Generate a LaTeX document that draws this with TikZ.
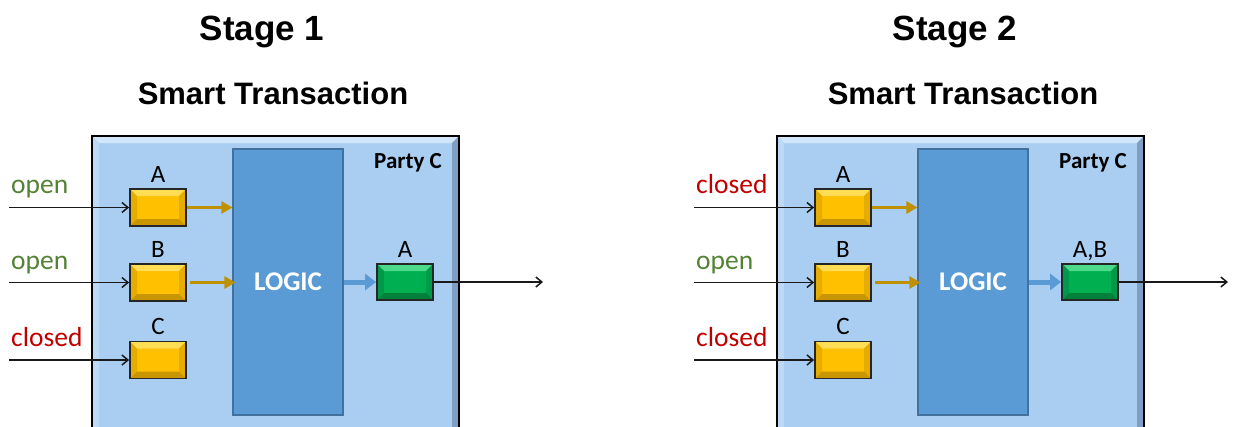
\documentclass[tikz,border=0pt]{standalone}
\usepackage{fontspec}
\setmainfont{Liberation Sans}
\newfontfamily\calibri{Carlito}
\usetikzlibrary{arrows.meta}
\definecolor{boxblue}{HTML}{AACEF1}
\definecolor{boxtop}{HTML}{D3E7FA}
\definecolor{boxleft}{HTML}{BCDAF5}
\definecolor{boxright}{HTML}{7E9FC2}
\definecolor{logicblue}{HTML}{5B9BD5}
\definecolor{logicedge}{HTML}{41719C}
\definecolor{gold}{HTML}{FFC000}
\definecolor{goldlight}{HTML}{FFDD55}
\definecolor{golddark}{HTML}{C99500}
\definecolor{goldside}{HTML}{E6AC00}
\definecolor{goldarrow}{HTML}{BF9000}
\definecolor{green1}{HTML}{00B050}
\definecolor{greenlight}{HTML}{4CD98A}
\definecolor{greendark}{HTML}{00803A}
\definecolor{greenside}{HTML}{00994A}
\definecolor{opengreen}{HTML}{548235}
\definecolor{closedred}{HTML}{C00000}
\tikzset{
  bevel/.style n args={5}{path picture={
    \path (path picture bounding box.north west) coordinate (bbnw)
          (path picture bounding box.north east) coordinate (bbne)
          (path picture bounding box.south west) coordinate (bbsw)
          (path picture bounding box.south east) coordinate (bbse);
    \fill[#2] (bbnw) -- (bbne) -- ([xshift=-#1pt,yshift=-#1pt]bbne) -- ([xshift=#1pt,yshift=-#1pt]bbnw) -- cycle;
    \fill[#3] (bbnw) -- ([xshift=#1pt,yshift=-#1pt]bbnw) -- ([xshift=#1pt,yshift=#1pt]bbsw) -- (bbsw) -- cycle;
    \fill[#4] (bbne) -- ([xshift=-#1pt,yshift=-#1pt]bbne) -- ([xshift=-#1pt,yshift=#1pt]bbse) -- (bbse) -- cycle;
    \fill[#5] (bbsw) -- ([xshift=#1pt,yshift=#1pt]bbsw) -- ([xshift=-#1pt,yshift=#1pt]bbse) -- (bbse) -- cycle;
  }},
  panelbox/.style={rectangle, draw=black, line width=2pt, fill=boxblue,
    minimum width=367pt, minimum height=300pt, inner sep=0pt,
    bevel={7}{boxtop}{boxleft}{boxright}{boxright}},
  logicbox/.style={rectangle, draw=logicedge, line width=1.2pt, fill=logicblue,
    minimum width=110pt, minimum height=266pt, inner sep=0pt,
    text=white, font=\calibri\bfseries\fontsize{27}{29}\selectfont},
  yelbox/.style={rectangle, draw=black!85, line width=1.8pt, fill=gold,
    minimum width=56pt, minimum height=37pt, inner sep=0pt,
    bevel={7}{goldlight}{goldside}{goldside}{golddark}},
  grnbox/.style={rectangle, draw=black!85, line width=1.8pt, fill=green1,
    minimum width=56pt, minimum height=36pt, inner sep=0pt,
    bevel={7}{greenlight}{greenside}{greenside}{greendark}},
  boxlabel/.style={font=\calibri\fontsize{25}{27}\selectfont, inner sep=0pt, anchor=base},
  partylabel/.style={font=\calibri\bfseries\fontsize{23}{25}\selectfont, inner sep=0pt, anchor=base},
  statelabel/.style={font=\calibri\fontsize{27.5}{29}\selectfont, inner sep=0pt, anchor=base west},
  titlelabel/.style={font=\bfseries\fontsize{35}{38}\selectfont, inner sep=0pt, anchor=base},
  sublabel/.style={font=\bfseries\fontsize{31}{34}\selectfont, inner sep=0pt, anchor=base},
  inarrow/.style={draw=black!90, line width=1.6pt, -{Straight Barb[length=6pt,width=10pt,line width=1.5pt]}},
  goldarr/.style={draw=goldarrow, line width=3pt, -{Triangle[length=11pt,width=12pt]}},
  bluearr/.style={draw=logicblue, line width=5pt, -{Triangle[length=11pt,width=16pt]}},
}
\newcommand\drawpanel[9]{%
  \begin{scope}[xshift=#2pt]
    \node[panelbox] (box#1) at (275.5,286) {};
    \node[logicbox] (logic#1) at (288,282) {LOGIC};
    \node[partylabel] (party#1) at (408,168) {Party C};
    \node[yelbox] (ya#1) at (158,207.5) {};
    \node[yelbox] (yb#1) at (158,282.5) {};
    \node[yelbox] (yc#1) at (158,360) {};
    \node[grnbox] (g#1) at (405,282) {};
    \node[boxlabel] (la#1) at (158,182) {A};
    \node[boxlabel] (lb#1) at (158,257) {B};
    \node[boxlabel] (lc#1) at (158,334) {C};
    \node[boxlabel] (lg#1) at (405,257) {#9};
    \node[statelabel, text=#4] (sa#1) at (11,193) {#3};
    \node[statelabel, text=#6] (sb#1) at (11,269) {#5};
    \node[statelabel, text=#8] (sc#1) at (11,346) {#7};
    \coordinate (ia#1) at (9,207.5);
    \coordinate (ib#1) at (9,282.5);
    \coordinate (ic#1) at (9,360);
    \coordinate (out#1) at (543,282);
    \draw[inarrow] (ia#1) -- (ya#1.west);
    \draw[inarrow] (ib#1) -- (yb#1.west);
    \draw[inarrow] (ic#1) -- (yc#1.west);
    \draw[goldarr] (ya#1.east) -- (logic#1.west |- ya#1.east);
    \draw[goldarr] ([xshift=3pt]yb#1.east) -- ([xshift=3pt]logic#1.west |- yb#1.east);
    \draw[bluearr] (logic#1.east |- g#1.west) -- (g#1.west);
    \draw[inarrow] (g#1.east) -- (out#1);
  \end{scope}%
}
\begin{document}
\begin{tikzpicture}[x=1pt,y=-1pt]
  \useasboundingbox (0,0) rectangle (1238,426);
  \clip (0,0) rectangle (1238,426);
  \node[titlelabel] (t1) at (262,40) {Stage 1};
  \node[sublabel] (s1) at (273,104) {Smart Transaction};
  \node[titlelabel] (t2) at (955,40) {Stage 2};
  \node[sublabel] (s2) at (963,104) {Smart Transaction};
  \drawpanel{L}{0}{open}{opengreen}{open}{opengreen}{closed}{closedred}{A}
  \drawpanel{R}{685}{closed}{closedred}{open}{opengreen}{closed}{closedred}{A,B}
\end{tikzpicture}
\end{document}
